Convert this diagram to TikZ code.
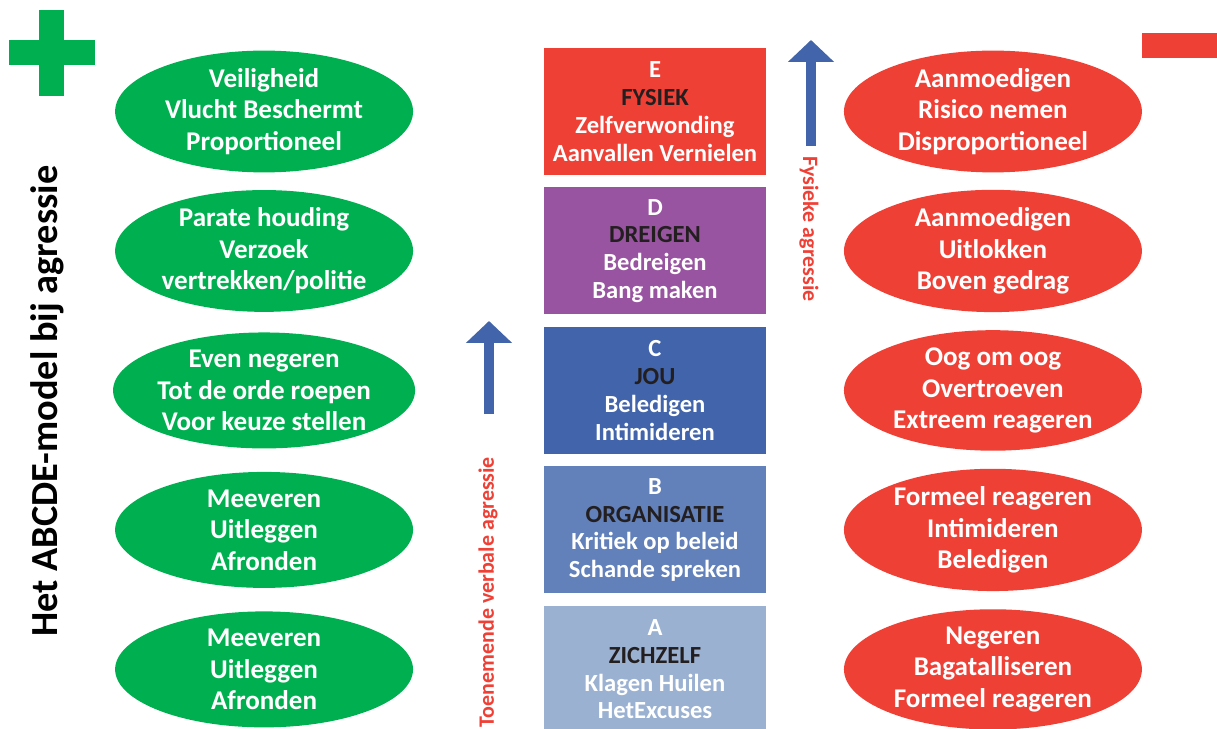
\documentclass[tikz,border=0pt]{standalone}
\usepackage{fontspec}
\setmainfont{Carlito}
\usetikzlibrary{shapes.geometric,positioning,arrows.meta}
\definecolor{plusgroen}{RGB}{0,176,80}
\definecolor{minrood}{RGB}{239,64,54}
\definecolor{paars}{RGB}{152,84,160}
\definecolor{blauw}{RGB}{65,100,170}
\definecolor{middenblauw}{RGB}{98,128,185}
\definecolor{lichtblauw}{RGB}{155,177,210}
\definecolor{donker}{RGB}{35,31,32}

\begin{document}
\begin{tikzpicture}[x=0.02cm,y=-0.02cm,node distance=2.79cm,on grid,
  trede/.style={rectangle,minimum width=4.44cm,minimum height=2.54cm,inner sep=0pt,align=center,text=white,font=\bfseries\fontsize{14}{15.8}\selectfont},
  goed/.style={ellipse,fill=plusgroen,minimum width=5.96cm,minimum height=2.32cm,inner sep=0pt,align=center,text=white,font=\bfseries\fontsize{15.4}{17.9}\selectfont},
  fout/.style={goed,fill=minrood},
  pijl/.style={draw=blauw,line width=0.2cm,-{Triangle[width=0.9cm,length=0.44cm]}},
  zijtekst/.style={text=minrood,inner sep=0pt,font=\bfseries\fontsize{12.5}{15}\selectfont}]
\useasboundingbox (0,0) rectangle (1217,729);
% plus en min
\fill[plusgroen] (39,10) rectangle (64,96);
\fill[plusgroen] (9,40) rectangle (95,65);
\fill[minrood] (1142,33) rectangle (1217,58);
\node[rotate=90,font=\bfseries\fontsize{21.8}{25}\selectfont] (titel) at (47,401) {Het ABCDE-model bij agressie};
% treden
\node[trede,fill=minrood] (E) at (655,111.5) {E\\{\color{donker}FYSIEK}\\Zelfverwonding\\Aanvallen Vernielen};
\node[trede,fill=paars,below=of E] (D) {D\\{\color{donker}DREIGEN}\\Bedreigen\\Bang maken};
\node[trede,fill=blauw,below=of D] (C) {C\\{\color{donker}JOU}\\Beledigen\\Intimideren};
\node[trede,fill=middenblauw,below=of C] (B) {B\\{\color{donker}ORGANISATIE}\\Kritiek op beleid\\Schande spreken};
\node[trede,fill=lichtblauw,below=of B] (A) {A\\{\color{donker}ZICHZELF}\\Klagen Huilen\\HetExcuses};
% goede reacties
\node[goed,left=7.82cm of E] (gE) {Veiligheid\\Vlucht Beschermt\\Proportioneel};
\node[goed,left=7.82cm of D] (gD) {Parate houding\\Verzoek\\vertrekken/politie};
\node[goed,left=7.82cm of C] (gC) {Even negeren\\Tot de orde roepen\\Voor keuze stellen};
\node[goed,left=7.82cm of B] (gB) {Meeveren\\Uitleggen\\Afronden};
\node[goed,left=7.82cm of A] (gA) {Meeveren\\Uitleggen\\Afronden};
% foute reacties
\node[fout,right=6.76cm of E] (fE) {Aanmoedigen\\Risico nemen\\Disproportioneel};
\node[fout,right=6.76cm of D] (fD) {Aanmoedigen\\Uitlokken\\Boven gedrag};
\node[fout,right=6.76cm of C] (fC) {Oog om oog\\Overtroeven\\Extreem reageren};
\node[fout,right=6.76cm of B] (fB) {Formeel reageren\\Intimideren\\Beledigen};
\node[fout,right=6.76cm of A] (fA) {Negeren\\Bagatalliseren\\Formeel reageren};
% pijlen
\coordinate (verbaalvoet) at (489,414);
\coordinate (verbaaltop) at (489,321);
\coordinate (fysiekvoet) at (811,146);
\coordinate (fysiektop) at (811,40);
\draw[pijl] (verbaalvoet) -- (verbaaltop);
\draw[pijl] (fysiekvoet) -- (fysiektop);
\node[zijtekst,rotate=-90] (fysiek) at (809,229) {Fysieke agressie};
\node[zijtekst,rotate=90] (verbaal) at (488,592) {Toenemende verbale agressie};
\end{tikzpicture}
\end{document}
